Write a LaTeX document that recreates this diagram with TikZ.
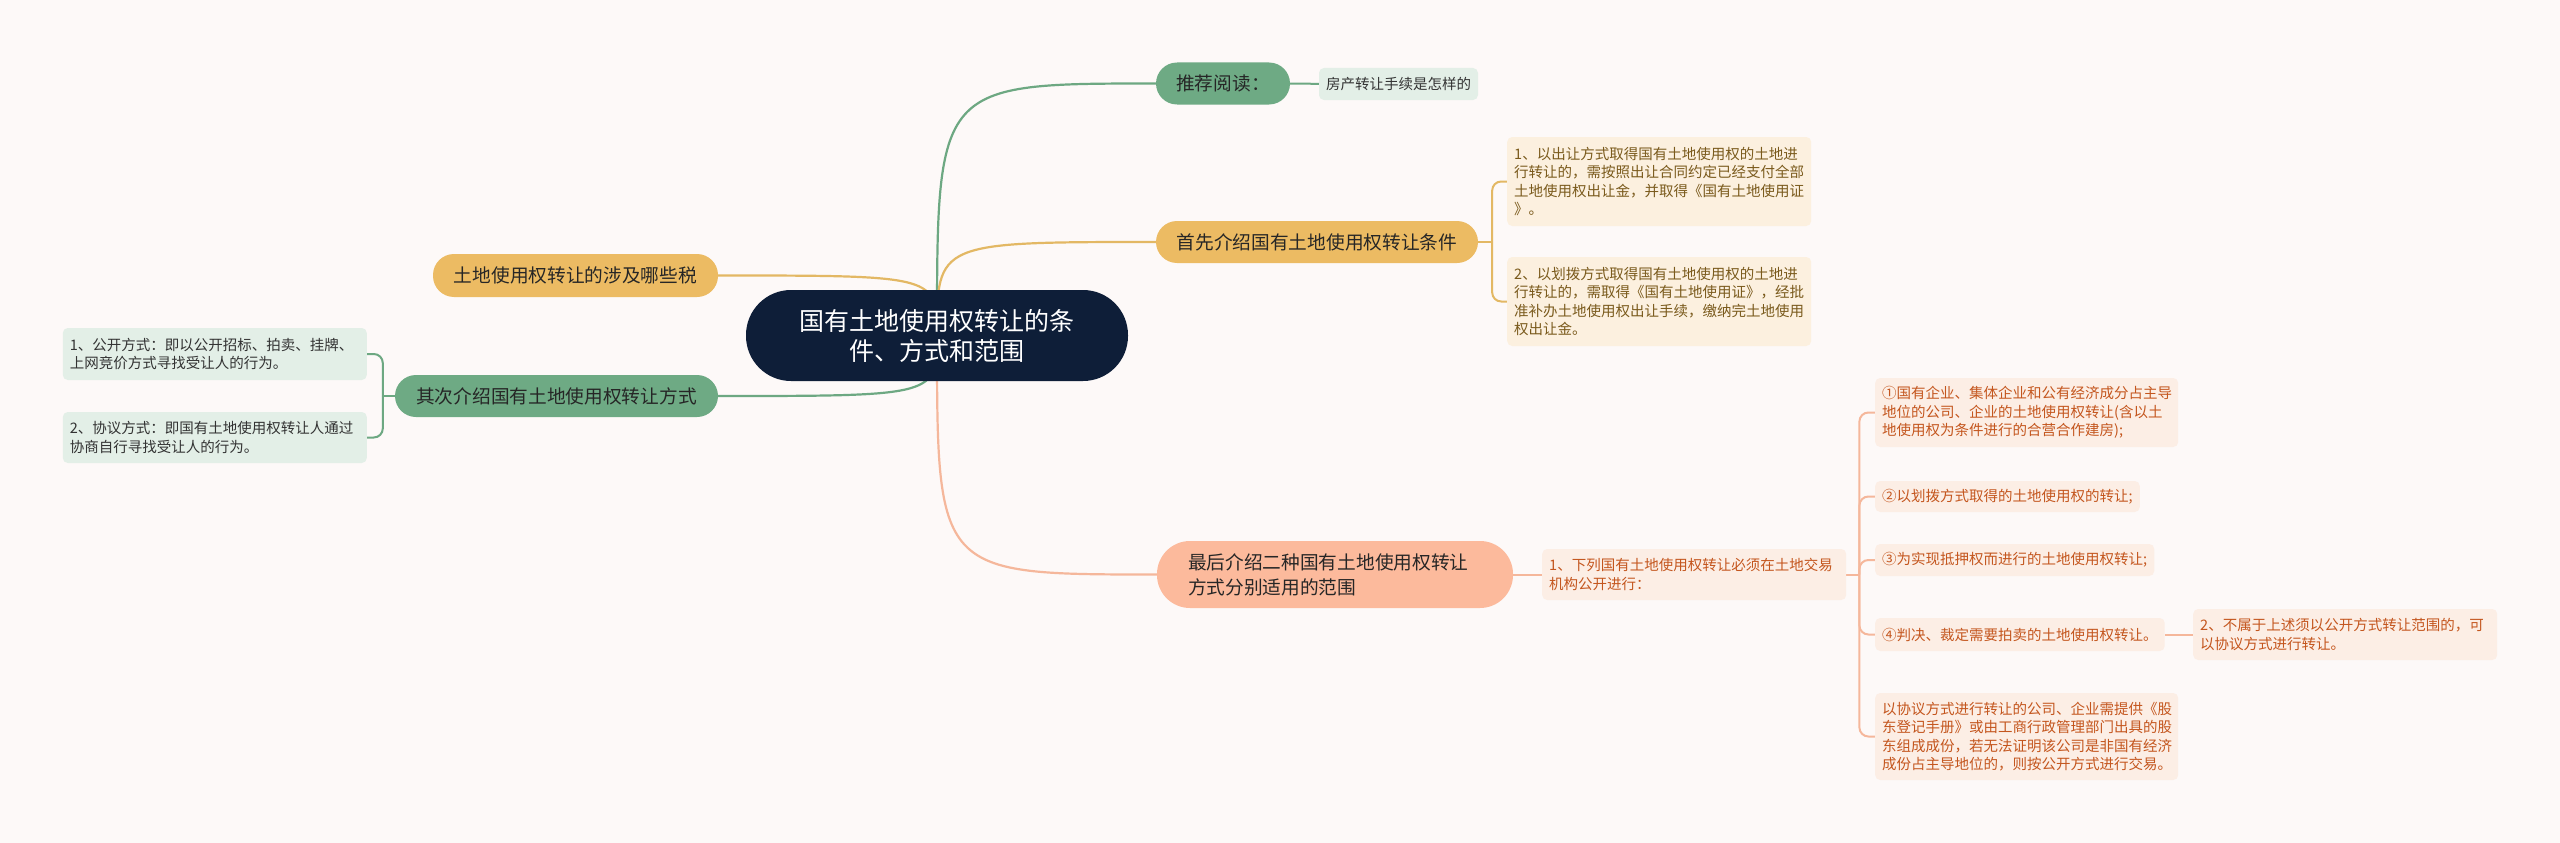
\documentclass[tikz,border=0pt]{standalone}
\usepackage{fontspec}
\setmainfont{Noto Sans CJK SC}
\usetikzlibrary{positioning,calc}
\definecolor{bgpaper}{HTML}{FDF9F8}
\definecolor{navy}{HTML}{0E1E38}
\definecolor{grnnode}{HTML}{6EAA84}
\definecolor{grnleaf}{HTML}{E3EFE7}
\definecolor{grnline}{HTML}{6DA882}
\definecolor{goldnode}{HTML}{ECBB63}
\definecolor{goldleaf}{HTML}{FCF0DF}
\definecolor{goldline}{HTML}{E3B864}
\definecolor{goldtext}{HTML}{7A5A1C}
\definecolor{pchnode}{HTML}{FCBA9C}
\definecolor{pchleaf}{HTML}{FCEEE5}
\definecolor{pchline}{HTML}{F5B79B}
\definecolor{pchtext}{HTML}{C4561E}
\pgfdeclarelayer{paper}
\pgfdeclarelayer{links}
\pgfsetlayers{paper,links,main}
\newcommand{\leaffont}{\fontsize{14.5}{18.3}\selectfont}
\newcommand{\topicfont}{\fontsize{18.7}{25}\selectfont}

\begin{document}
\begin{tikzpicture}[x=1pt,y=-1pt,
    root/.style={fill=navy, text=white, rounded corners=45pt, minimum width=382pt, minimum height=91pt, align=center, font=\fontsize{25}{30}\selectfont},
    topic/.style={rounded corners=21pt, minimum height=42pt, inner xsep=0pt, font=\topicfont, text=black!85},
    leaf/.style={rounded corners=5pt, inner xsep=7pt, inner ysep=0pt, align=left, font=\leaffont},
    grnbox/.style={leaf, fill=grnleaf, text=black!80},
    goldbox/.style={leaf, fill=goldleaf, text=goldtext},
    pchbox/.style={leaf, fill=pchleaf, text=pchtext},
    link/.style={line width=2pt},
    mainlink/.style={line width=2.2pt},
  ]
  \begin{pgfonlayer}{paper}
    \fill[bgpaper] (0,0) rectangle (2560,843);
  \end{pgfonlayer}
  \useasboundingbox (0,0) rectangle (2560,843);

  % centre and main topics
  \node[root] (c) at (937,335.5) {国有土地使用权转让的条\\件、方式和范围};
  \node[topic, fill=grnnode, minimum width=134pt] (read) at (1223,83.5) {推荐阅读：};
  \node[topic, fill=goldnode, minimum width=322pt] (cond) at (1317,242) {首先介绍国有土地使用权转让条件};
  \node[topic, fill=goldnode, minimum width=285pt, minimum height=43pt] (tax) at (575.5,275.5) {土地使用权转让的涉及哪些税};
  \node[topic, fill=grnnode, minimum width=323pt] (mode) at (556.5,396) {其次介绍国有土地使用权转让方式};
  \node[topic, fill=pchnode, minimum width=356pt, minimum height=67pt, rounded corners=33pt, text width=294pt, align=left] (scope) at (1335,574.5) {最后介绍二种国有土地使用权转让\\方式分别适用的范围};

  % leaves
  \node[grnbox, minimum height=32pt] (house) at (1398.5,84) {房产转让手续是怎样的};
  \node[goldbox, anchor=west, text width=290pt, minimum height=89pt] (c1) at (1507,181.5) {1、以出让方式取得国有土地使用权的土地进\\行转让的，需按照出让合同约定已经支付全部\\土地使用权出让金，并取得《国有土地使用证\\》。};
  \node[goldbox, anchor=west, text width=290pt, minimum height=89pt] (c2) at (1507,301.5) {2、以划拨方式取得国有土地使用权的土地进\\行转让的，需取得《国有土地使用证》，经批\\准补办土地使用权出让手续，缴纳完土地使用\\权出让金。};
  \node[grnbox, anchor=east, text width=290pt, minimum height=52pt] (m1) at (367,354) {1、公开方式：即以公开招标、拍卖、挂牌、\\上网竞价方式寻找受让人的行为。};
  \node[grnbox, anchor=east, text width=290pt, minimum height=51pt] (m2) at (367,437.5) {2、协议方式：即国有土地使用权转让人通过\\协商自行寻找受让人的行为。};
  \node[pchbox, anchor=west, text width=290pt, minimum height=51pt] (list) at (1542,574.5) {1、下列国有土地使用权转让必须在土地交易\\机构公开进行：};
  \node[pchbox, anchor=west, text width=289pt, minimum height=69pt] (p1) at (1875,412.5) {①国有企业、集体企业和公有经济成分占主导\\地位的公司、企业的土地使用权转让(含以土\\地使用权为条件进行的合营合作建房);};
  \node[pchbox, anchor=west, minimum height=31pt] (p2) at (1875,496.5) {②以划拨方式取得的土地使用权的转让;};
  \node[pchbox, anchor=west, minimum height=32pt] (p3) at (1875,560) {③为实现抵押权而进行的土地使用权转让;};
  \node[pchbox, anchor=west, minimum height=33pt] (p4) at (1875,634.5) {④判决、裁定需要拍卖的土地使用权转让。};
  \node[pchbox, anchor=west, text width=290pt, minimum height=51pt] (nonpub) at (2193,634.5) {2、不属于上述须以公开方式转让范围的，可\\以协议方式进行转让。};
  \node[pchbox, anchor=west, text width=289pt, minimum height=87pt] (proof) at (1875,736.5) {以协议方式进行转让的公司、企业需提供《股\\东登记手册》或由工商行政管理部门出具的股\\东组成成份，若无法证明该公司是非国有经济\\成份占主导地位的，则按公开方式进行交易。};

  \coordinate (cj) at ([xshift=14pt]cond.east);
  \coordinate (mj) at ([xshift=-12pt]mode.west);
  \coordinate (lj) at ([xshift=13pt]list.east);

  \begin{pgfonlayer}{links}
    \draw[mainlink, grnline] (c.center) .. controls (c.center |- read.west) .. (read.west);
    \draw[mainlink, goldline] (c.center) .. controls (c.center |- cond.west) .. (cond.west);
    \draw[mainlink, pchline] (c.center) .. controls (c.center |- scope.west) .. (scope.west);
    \draw[mainlink, goldline] (c.center) .. controls (c.center |- tax.east) .. (tax.east);
    \draw[mainlink, grnline] (c.center) .. controls (c.center |- mode.east) .. (mode.east);
    \draw[link, grnline] (read) -- (house);
    \draw[link, goldline] (cond.east) -- (cj);
    \foreach \n in {c1,c2}
      \draw[link, goldline, rounded corners=9pt] (cj) |- (\n.west);
    \draw[link, grnline] (mode.west) -- (mj);
    \foreach \n in {m1,m2}
      \draw[link, grnline, rounded corners=9pt] (mj) |- (\n.east);
    \draw[link, pchline] (scope) -- (list);
    \draw[link, pchline] (list.east) -- (lj);
    \foreach \n in {p1,p2,p3,p4,proof}
      \draw[link, pchline, rounded corners=9pt] (lj) |- (\n.west);
    \draw[link, pchline] (p4) -- (nonpub);
  \end{pgfonlayer}
\end{tikzpicture}
\end{document}
